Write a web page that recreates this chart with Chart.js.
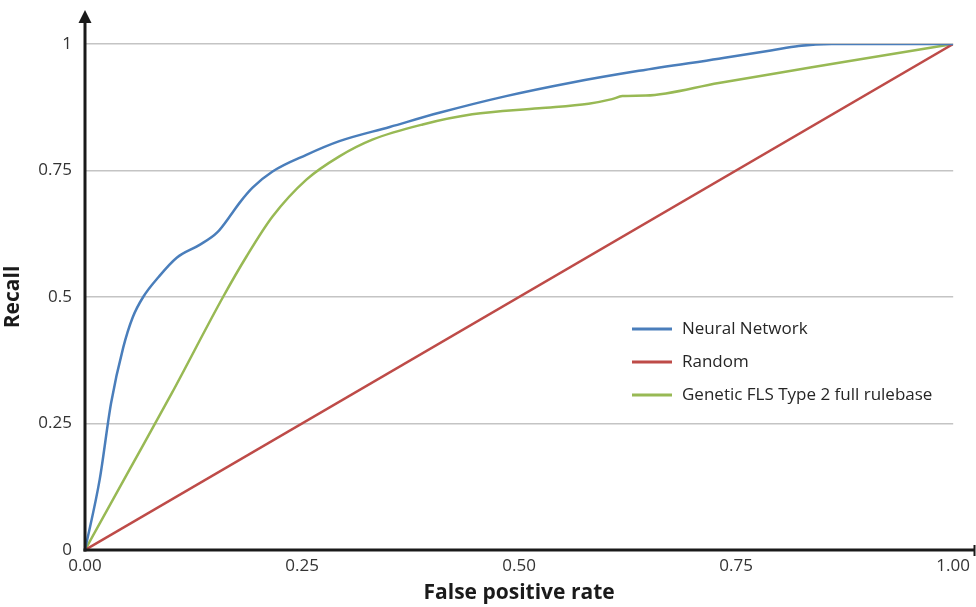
<!DOCTYPE html>
<html>
<head>
<meta charset="utf-8">
<script src="https://cdn.jsdelivr.net/npm/chart.js@4.4.1/dist/chart.umd.min.js"></script>
<style>
  html, body { margin: 0; padding: 0; background: #ffffff; }
  #wrap { width: 976px; height: 607px; }
</style>
</head>
<body>
<div id="wrap"><canvas id="c" width="976" height="607"></canvas></div>
<script>
// ---- data ----
const seriesNames = ['Neural Network', 'Random', 'Genetic FLS Type 2 full rulebase'];

const nnFpr    = [0, 0.017, 0.030, 0.044, 0.055, 0.067, 0.085, 0.106, 0.132, 0.152, 0.170, 0.178, 0.193, 0.216, 0.255, 0.293, 0.351, 0.408, 0.485, 0.561, 0.638, 0.730, 0.790, 0.822, 0.860, 1.000];
const nnRecall = [0, 0.140, 0.290, 0.400, 0.460, 0.500, 0.540, 0.578, 0.603, 0.627, 0.667, 0.686, 0.716, 0.748, 0.781, 0.808, 0.836, 0.864, 0.897, 0.924, 0.947, 0.971, 0.987, 0.996, 1.000, 1.000];

const rndFpr    = [0, 1];
const rndRecall = [0, 1];

const gaFpr    = [0, 0.050, 0.100, 0.159, 0.186, 0.216, 0.255, 0.293, 0.331, 0.389, 0.446, 0.523, 0.580, 0.607, 0.619, 0.646, 0.730, 0.800, 0.879, 1.000];
const gaRecall = [0, 0.155, 0.310, 0.500, 0.580, 0.659, 0.732, 0.778, 0.811, 0.841, 0.861, 0.873, 0.882, 0.891, 0.897, 0.898, 0.923, 0.943, 0.966, 1.000];

const xTickValues = [0, 0.25, 0.5, 0.75, 1];
const xTickLabels = ['0.00', '0.25', '0.50', '0.75', '1.00'];
const yTickValues = [0, 0.25, 0.5, 0.75, 1];
const yTickLabels = ['0', '0.25', '0.5', '0.75', '1'];

const xTitle = 'False positive rate';
const yTitle = 'Recall';

// ---- build ----
function pts(xs, ys) { return xs.map((x, i) => ({ x: x, y: ys[i] })); }

const FONT = "'Open Sans', 'DejaVu Sans', sans-serif";
const AXIS_COLOR = '#1a1a1a';

const axesPlugin = {
  id: 'axesPlugin',
  afterDatasetsDraw(chart) {
    const ctx = chart.ctx;
    const xs = chart.scales.x, ys = chart.scales.y;
    const x0 = xs.getPixelForValue(0);
    const y0 = ys.getPixelForValue(0);
    ctx.save();
    ctx.strokeStyle = AXIS_COLOR;
    ctx.fillStyle = AXIS_COLOR;
    ctx.lineWidth = 3;
    ctx.beginPath();
    ctx.moveTo(x0 - 1.5, y0);
    ctx.lineTo(chart.width - 1, y0);
    ctx.stroke();
    ctx.lineWidth = 2;
    ctx.beginPath();
    ctx.moveTo(chart.width - 1.5, y0 - 5);
    ctx.lineTo(chart.width - 1.5, y0 + 6);
    ctx.stroke();
    ctx.lineWidth = 3;
    ctx.beginPath();
    ctx.moveTo(x0, y0 + 1.5);
    ctx.lineTo(x0, 22);
    ctx.stroke();
    ctx.beginPath();
    ctx.moveTo(x0, 10);
    ctx.lineTo(x0 - 6.5, 23);
    ctx.lineTo(x0 + 6.5, 23);
    ctx.closePath();
    ctx.fill();
    ctx.restore();
  }
};

const legendPlugin = {
  id: 'insideLegend',
  afterDraw(chart, args, opts) {
    const ctx = chart.ctx;
    ctx.save();
    ctx.font = '17px ' + FONT;
    ctx.textBaseline = 'middle';
    ctx.textAlign = 'left';
    chart.data.datasets.forEach((ds, i) => {
      const y = opts.top + i * opts.rowGap;
      ctx.strokeStyle = ds.borderColor;
      ctx.lineWidth = 3;
      ctx.beginPath();
      ctx.moveTo(opts.left, y);
      ctx.lineTo(opts.left + opts.lineLen, y);
      ctx.stroke();
      ctx.fillStyle = '#262626';
      ctx.fillText(ds.label, opts.left + opts.lineLen + 10, y);
    });
    ctx.restore();
  }
};

new Chart(document.getElementById('c'), {
  type: 'line',
  data: {
    datasets: [
      { label: seriesNames[0], data: pts(nnFpr, nnRecall), borderColor: '#4a7ebb', borderWidth: 2.5, pointRadius: 0, cubicInterpolationMode: 'monotone', fill: false },
      { label: seriesNames[1], data: pts(rndFpr, rndRecall), borderColor: '#be4b48', borderWidth: 2.5, pointRadius: 0, fill: false },
      { label: seriesNames[2], data: pts(gaFpr, gaRecall), borderColor: '#98b954', borderWidth: 2.5, pointRadius: 0, cubicInterpolationMode: 'monotone', fill: false }
    ]
  },
  options: {
    responsive: false,
    animation: false,
    devicePixelRatio: 1,
    layout: { padding: { top: 44, right: 21, left: 0, bottom: 0 } },
    plugins: {
      legend: { display: false },
      tooltip: { enabled: false },
      insideLegend: { left: 632, lineLen: 40, top: 329, rowGap: 33 }
    },
    scales: {
      x: {
        type: 'linear', min: 0, max: 1,
        afterBuildTicks(s) { s.ticks = xTickValues.map(v => ({ value: v })); },
        afterFit(s) { s.height = 57; },
        grid: { display: false, drawTicks: false },
        border: { display: false },
        ticks: {
          padding: 6,
          color: '#333333',
          font: { family: FONT, size: 17 },
          maxRotation: 0,
          callback: (v) => { const i = xTickValues.indexOf(v); return i >= 0 ? xTickLabels[i] : ''; }
        },
        title: {
          display: true, text: xTitle, color: '#1a1a1a',
          font: { family: FONT, size: 21, weight: 'bold' },
          padding: { top: 0, bottom: 1 }
        }
      },
      y: {
        type: 'linear', min: 0, max: 1,
        afterBuildTicks(s) { s.ticks = yTickValues.map(v => ({ value: v })); },
        afterFit(s) { s.width = 85; },
        grid: {
          drawTicks: false, color: (c) => (c.tick && c.tick.value === 0) ? 'rgba(0,0,0,0)' : '#c4c4c4',
          lineWidth: 1.5
        },
        border: { display: false },
        ticks: {
          padding: 13,
          color: '#333333',
          font: { family: FONT, size: 17 },
          callback: (v) => { const i = yTickValues.indexOf(v); return i >= 0 ? yTickLabels[i] : ''; }
        },
        title: {
          display: true, text: yTitle, color: '#1a1a1a',
          font: { family: FONT, size: 21, weight: 'bold' },
          padding: { top: 0, bottom: 0 }
        }
      }
    }
  },
  plugins: [axesPlugin, legendPlugin]
});
</script>
</body>
</html>
